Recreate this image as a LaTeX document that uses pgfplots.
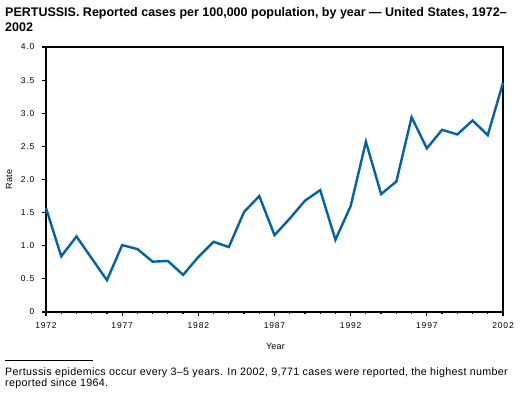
\documentclass[border=0pt]{standalone}
\usepackage{fontspec}
\setmainfont{Liberation Sans}
\usepackage{pgfplots}
\pgfplotsset{compat=1.18}
\definecolor{lineblue}{RGB}{0,99,168}
\begin{document}
\begin{tikzpicture}[x=1pt,y=1pt]
\useasboundingbox (0,0) rectangle (520,394);
\begin{axis}[
  at={(46pt,82pt)}, anchor=south west,
  scale only axis, width=457pt, height=265pt,
  xmin=1972, xmax=2002, ymin=0, ymax=4,
  xtick={1972,1977,1982,1987,1992,1997,2002},
  minor xtick={1972,...,2002},
  xticklabels={1972,1977,1982,1987,1992,1997,2002},
  ytick={0,0.5,1,1.5,2,2.5,3,3.5,4},
  yticklabels={0,0.5,1.0,1.5,2.0,2.5,3.0,3.5,4.0},
  tick align=outside,
  xtick pos=bottom, ytick pos=left,
  major tick length=4pt, minor tick length=2.5pt,
  every tick/.style={black, line width=1.2pt},
  axis line style={line width=2pt, black},
  tick label style={font=\addfontfeatures{LetterSpace=10}\fontsize{8.5}{10}\selectfont},
  xticklabel style={yshift=-3pt},
  yticklabel style={xshift=-4pt},
  /pgf/number format/assume math mode=true,
  clip=false,
]
\addplot[lineblue, line width=2.4pt, line join=miter] coordinates {
(1972,1.57) (1973,0.84) (1974,1.14) (1975,0.81) (1976,0.48) (1977,1.01)
(1978,0.95) (1979,0.76) (1980,0.77) (1981,0.56) (1982,0.83) (1983,1.06)
(1984,0.98) (1985,1.51) (1986,1.75) (1987,1.16) (1988,1.41) (1989,1.68)
(1990,1.84) (1991,1.09) (1992,1.60) (1993,2.57) (1994,1.78) (1995,1.97)
(1996,2.94) (1997,2.47) (1998,2.75) (1999,2.68) (2000,2.89) (2001,2.67)
(2002,3.46)
};
\end{axis}
\node[anchor=base, inner sep=0pt, font=\addfontfeatures{LetterSpace=3}\fontsize{9}{10}\selectfont] at (275.5,45) {Year};
\node[rotate=90, anchor=center, inner sep=0pt, font=\addfontfeatures{LetterSpace=3}\fontsize{9}{10}\selectfont] at (9,214.5) {Rate};
\node[anchor=base west, inner sep=0pt, font=\bfseries\fontsize{12.5}{14}\selectfont] at (5,377) {PERTUSSIS. Reported cases per 100,000 population, by year --- United States, 1972--};
\node[anchor=base west, inner sep=0pt, font=\bfseries\fontsize{12.5}{14}\selectfont] at (5,362) {2002};
\draw[line width=1pt] (5,33) -- (93,33);
\node[anchor=base west, inner sep=0pt, font=\addfontfeatures{LetterSpace=3}\fontsize{10.7}{12}\selectfont] at (5,18) {Pertussis epidemics occur every 3--5 years. In 2002, 9,771 cases were reported, the highest number};
\node[anchor=base west, inner sep=0pt, font=\addfontfeatures{LetterSpace=3}\fontsize{10.7}{12}\selectfont] at (5,7) {reported since 1964.};
\end{tikzpicture}
\end{document}
